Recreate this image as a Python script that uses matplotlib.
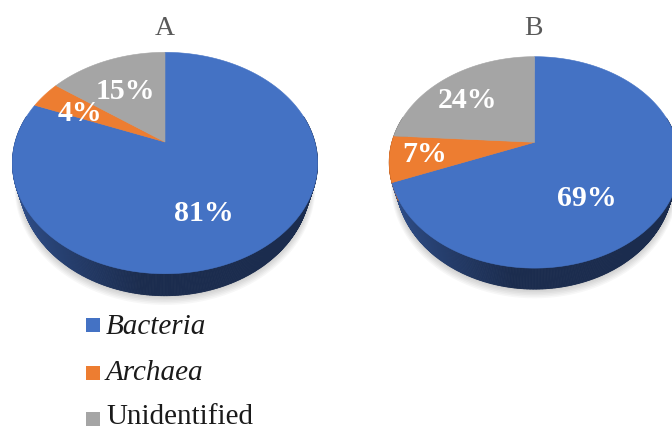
import numpy as np
import matplotlib
matplotlib.use("Agg")
import matplotlib.pyplot as plt
from matplotlib.patches import Polygon, Rectangle
from matplotlib.collections import PolyCollection
from matplotlib.colors import to_rgb

# ---- data ----
categories = ["Bacteria", "Archaea", "Unidentified"]
sample_a = [81, 4, 15]
sample_b = [69, 7, 24]
panel_titles = ["A", "B"]

# ---- styling ----
top_colors = ["#4472C4", "#ED7D31", "#A5A5A5"]
side_light = ["#30508c", "#b65e22", "#7c7c7c"]
side_dark = ["#1b2c4e", "#77401a", "#4f4f4f"]
legend_italic = [True, True, False]
SERIF = ["Liberation Serif", "DejaVu Serif"]

# pie geometry in pixels: centre of the disc, radii, perspective, thickness,
# and how much narrower the bottom rim is than the top rim
geoms = [
    dict(cx=165.0, cy=142.0, a=149.8, s=106.7, k=0.19, h=17.8, c=0.955),
    dict(cx=534.5, cy=142.3, a=142.6, s=101.9, k=0.19, h=17.0, c=0.955),
]
# label anchor per wedge on the disc: (angle in degrees, radius fraction)
label_spots = [
    [(-69.0, 0.64), (154.4, 0.66), (119.0, 0.60)],
    [(-56.5, 0.60), (189.2, 0.76), (139.4, 0.675)],
]
title_pos = [(165, 35), (533, 35)]

fig = plt.figure(figsize=(6.72, 4.30), dpi=100)
ax = fig.add_axes([0, 0, 1, 1])
ax.set_xlim(0, 672)
ax.set_ylim(430, 0)
ax.axis("off")


def proj(g, t, r=1.0, z=0.0):
    u = r * np.cos(t)
    v = r * np.sin(t)
    w = 1.0 + g["k"] * v
    shrink = 1.0 - (1.0 - g["c"]) * z
    x = g["cx"] + g["a"] * shrink * u / w
    y = g["cy"] - g["s"] * v / w + g["h"] * z / w
    return x, y


def mix(c1, c2, f):
    c1, c2 = np.array(to_rgb(c1)), np.array(to_rgb(c2))
    return tuple(c1 + (c2 - c1) * f)


def draw_pie(g, values, spots, title, tpos):
    vals = np.asarray(values, dtype=float)
    frac = vals / vals.sum()
    cum = np.concatenate([[0.0], np.cumsum(frac)])
    starts = np.deg2rad(90.0 - 360.0 * cum[:-1])
    ends = np.deg2rad(90.0 - 360.0 * cum[1:])

    # soft drop shadow under the disc
    tt = np.linspace(0, 2 * np.pi, 300)
    for d in range(1, 7):
        gg = dict(g)
        gg["a"] = g["a"] + d * 0.8
        gg["s"] = g["s"] + d * 0.6
        x, y = proj(gg, tt, z=1.0)
        ax.add_patch(Polygon(np.column_stack([x, y + d * 0.8]), closed=True,
                             facecolor="black", edgecolor="none",
                             alpha=0.03, zorder=1))

    xl = g["cx"] - g["a"] * 1.02
    xr = g["cx"] + g["a"] * 1.02

    # side wall, shaded from left to right
    quads, cols = [], []
    for i in range(len(vals)):
        n = max(4, int(abs(ends[i] - starts[i]) / np.deg2rad(0.5)))
        t = np.linspace(starts[i], ends[i], n + 1)
        for j in range(n):
            tm = 0.5 * (t[j] + t[j + 1])
            if np.sin(tm) > 0.25:
                continue
            x0, y0 = proj(g, t[j])
            x1, y1 = proj(g, t[j + 1])
            x2, y2 = proj(g, t[j + 1], z=1.0)
            x3, y3 = proj(g, t[j], z=1.0)
            quads.append([(x0, y0), (x1, y1), (x2, y2), (x3, y3)])
            f = np.clip(((x0 + x1) / 2 - xl) / (xr - xl) / 0.42, 0, 1) ** 0.8
            cols.append(mix(side_light[i], side_dark[i], f))
    ax.add_collection(PolyCollection(quads, facecolors=cols, edgecolors=cols,
                                     linewidths=0.6, zorder=2))

    # top face wedges
    for i in range(len(vals)):
        n = max(4, int(abs(ends[i] - starts[i]) / np.deg2rad(0.5)))
        t = np.linspace(starts[i], ends[i], n + 1)
        x, y = proj(g, t)
        pts = np.vstack([[g["cx"], g["cy"]], np.column_stack([x, y])])
        ax.add_patch(Polygon(pts, closed=True, facecolor=top_colors[i],
                             edgecolor=top_colors[i], linewidth=0.4, zorder=3))

    # value labels
    for i, v in enumerate(values):
        ang, rad = spots[i]
        lx, ly = proj(g, np.deg2rad(ang), r=rad)
        ax.text(lx, ly, f"{v}%", color="white", fontsize=21.5, fontweight="bold",
                family=SERIF, ha="center", va="center", zorder=5)

    ax.text(tpos[0], tpos[1], title, color="#595959", fontsize=20,
            family=SERIF, ha="center", va="baseline", zorder=5)


for g, vals, spots, title, tpos in zip(geoms, [sample_a, sample_b], label_spots,
                                        panel_titles, title_pos):
    draw_pie(g, vals, spots, title, tpos)

# legend
legend_square_y = [325.0, 372.5, 418.5]
legend_base_y = [333.5, 380.5, 423.5]
for name, col, it, ys, yb in zip(categories, top_colors, legend_italic,
                                 legend_square_y, legend_base_y):
    ax.add_patch(Rectangle((86, ys - 7), 14, 14, facecolor=col,
                           edgecolor="none", zorder=4))
    ax.text(106, yb, name, fontsize=21, family=SERIF, color="#1a1a1a",
            fontstyle="italic" if it else "normal", ha="left",
            va="baseline", zorder=4)

fig.savefig("out.png", dpi=100)
